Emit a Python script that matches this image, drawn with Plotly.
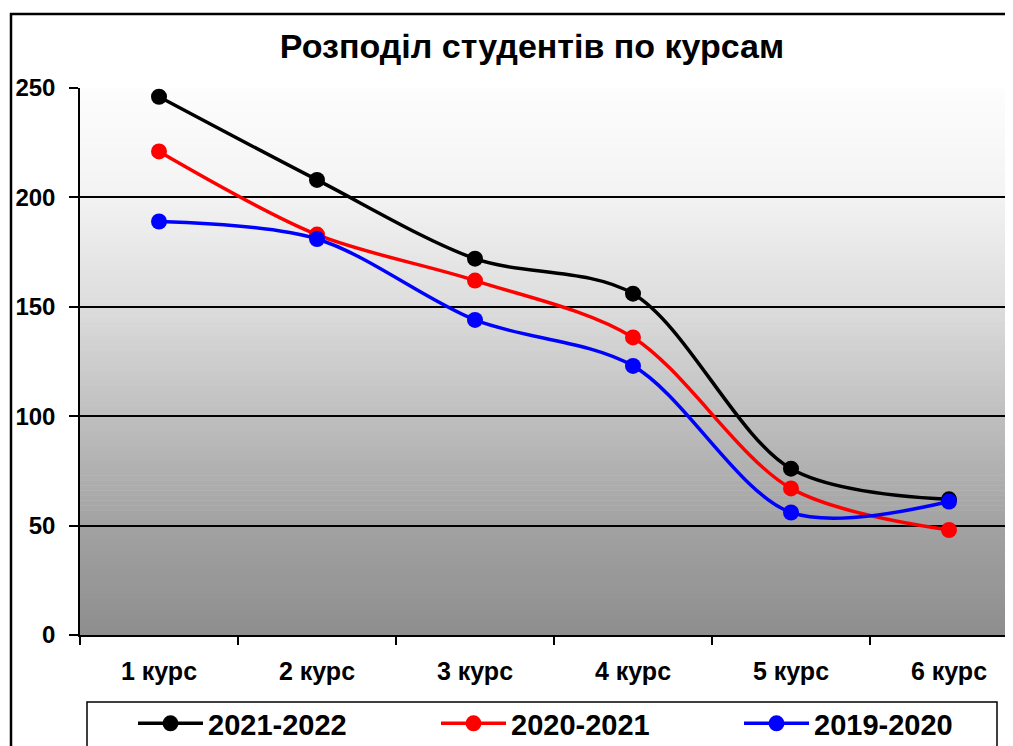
import plotly.graph_objects as go

# ---- data ----
courses = ["1 курс", "2 курс", "3 курс", "4 курс", "5 курс", "6 курс"]
s2021_2022 = [246, 208, 172, 156, 76, 62]
s2020_2021 = [221, 183, 162, 136, 67, 48]
s2019_2020 = [189, 181, 144, 123, 56, 61]
series_names = ["2021-2022", "2020-2021", "2019-2020"]
series_values = [s2021_2022, s2020_2021, s2019_2020]
series_colors = ["#000000", "#ff0000", "#0000ff"]
title_text = "Розподіл студентів по курсам"

# ---- geometry (window pixels; the page body has an 8px margin) ----
O = 8
W, H = 1005, 738
PL, PT, PB, PRt = 80, 88, 635, 1013   # plot area edges in window pixels
L = PL - O
T = PT - O
B = H - (PB - O)
R = W - (PRt - O)
pw, ph = W - L - R, H - T - B
cat_w = 158.0


def px(x):
    return (x - O - L) / pw


def py(y):
    return ((PB - O) - (y - O)) / ph


FONT = "Liberation Sans, Arial, sans-serif"

fig = go.Figure()
for name, vals, col in zip(series_names, series_values, series_colors):
    fig.add_trace(go.Scatter(
        x=courses, y=vals, name=name, mode="lines+markers",
        line=dict(color=col, width=3.5, shape="spline", smoothing=0.9),
        marker=dict(color=col, size=16),
        cliponaxis=False,
    ))

shapes = []
# gradient background (light at top, grey at bottom)
stops = [(0.0, 253), (0.2, 243), (0.4, 220), (0.6, 191), (0.8, 162), (1.0, 142)]


def grey_at(f):
    for (f0, c0), (f1, c1) in zip(stops[:-1], stops[1:]):
        if f0 <= f <= f1:
            return c0 + (c1 - c0) * (f - f0) / (f1 - f0)
    return stops[-1][1]


N = 110
for i in range(N):
    top = 1 - i / N
    bot = 1 - (i + 1) / N
    g = int(round(grey_at((i + 0.5) / N)))
    shapes.append(dict(type="rect", xref="paper", yref="paper", x0=0, x1=1.02,
                       y0=bot, y1=top + 0.001, line=dict(width=0),
                       fillcolor=f"rgb({g},{g},{g})", layer="below"))

# outer chart border
shapes.append(dict(type="rect", xref="paper", yref="paper",
                   x0=px(11), x1=px(1040), y0=py(770), y1=py(14),
                   line=dict(color="black", width=2.5), fillcolor="rgba(0,0,0,0)"))
# legend border
shapes.append(dict(type="rect", xref="paper", yref="paper",
                   x0=px(87), x1=px(997), y0=py(780), y1=py(702),
                   line=dict(color="black", width=1.5), fillcolor="rgba(0,0,0,0)"))

fig.update_layout(
    width=W, height=H,
    margin=dict(l=L, r=R, t=T, b=B, autoexpand=False),
    paper_bgcolor="white", plot_bgcolor="rgba(0,0,0,0)",
    font=dict(family=FONT, color="black"),
    title=dict(text=title_text, x=(532 - O) / W, xanchor="center", xref="container",
               y=1 - (46 - O) / H, yanchor="middle", yref="container",
               font=dict(family=FONT, size=34, weight="bold", color="black")),
    shapes=shapes,
    showlegend=True,
    legend=dict(orientation="h", x=px(133), xanchor="left", y=py(698), yanchor="top",
                font=dict(family=FONT, size=29, weight="bold", color="black"),
                entrywidth=223, entrywidthmode="pixels", itemwidth=65,
                bgcolor="rgba(0,0,0,0)", borderwidth=0, traceorder="normal"),
)

fig.update_xaxes(
    type="category", categoryorder="array", categoryarray=courses,
    range=[-0.5, -0.5 + pw / cat_w],
    showgrid=False, zeroline=False,
    showline=True, linecolor="black", linewidth=2,
    ticks="outside", tickson="boundaries", ticklen=8, tickwidth=1.5, tickcolor="black",
    tickfont=dict(family=FONT, size=25, weight="bold", color="black"),
    ticklabelstandoff=13,
)
fig.update_yaxes(
    range=[0, 250], dtick=50, tick0=0,
    showgrid=True, gridcolor="black", gridwidth=1.5,
    zeroline=False,
    showline=True, linecolor="black", linewidth=1.5,
    ticks="outside", ticklen=9, tickwidth=1.5, tickcolor="black",
    tickfont=dict(family=FONT, size=24, weight="bold", color="black"),
    ticklabelstandoff=9,
)

fig.write_html("out.html")
